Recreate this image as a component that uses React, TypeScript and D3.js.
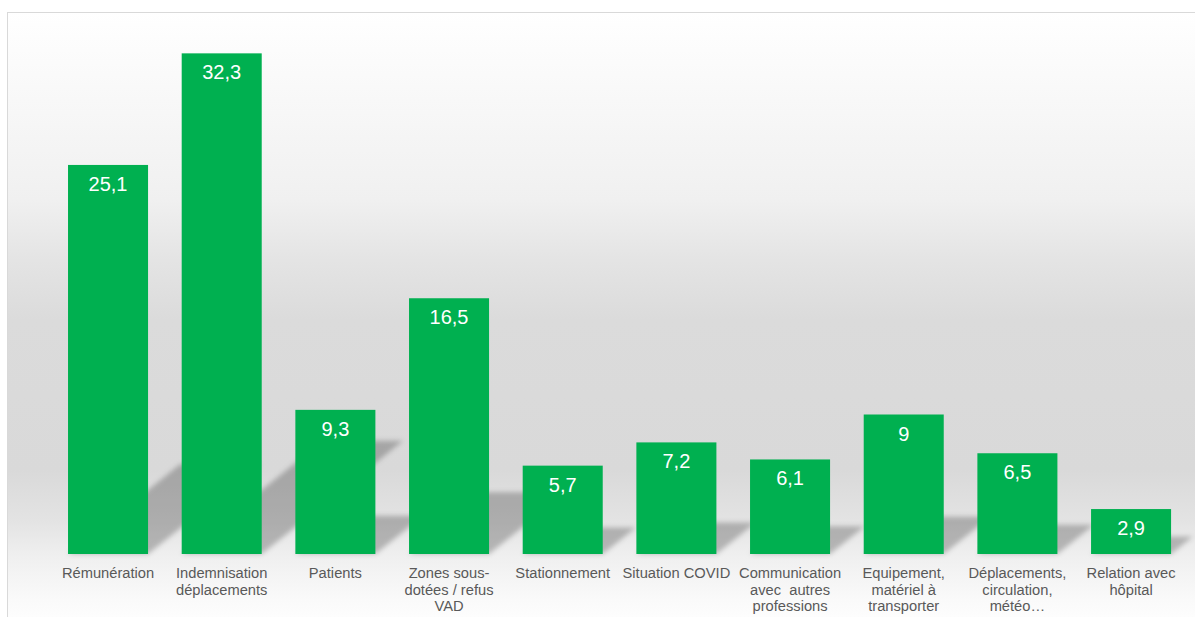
import React from "react";
import * as d3 from "d3";

const categories: string[][] = [
  ["Rémunération"],
  ["Indemnisation", "déplacements"],
  ["Patients"],
  ["Zones sous-", "dotées / refus", "VAD"],
  ["Stationnement"],
  ["Situation COVID"],
  ["Communication", "avec  autres", "professions"],
  ["Equipement,", "matériel à", "transporter"],
  ["Déplacements,", "circulation,", "météo…"],
  ["Relation avec", "hôpital"],
];
const values: number[] = [25.1, 32.3, 9.3, 16.5, 5.7, 7.2, 6.1, 9, 6.5, 2.9];
const yMax = 35;

const W = 1195;
const H = 617;
const BASE = 554;
const GREEN = "#00B050";
const FONT = "'Liberation Sans', Arial, sans-serif";

const bgStops: [number, string][] = [
  [12, "#ffffff"],
  [100, "#f8f8f8"],
  [200, "#f0f0f0"],
  [260, "#e4e4e4"],
  [320, "#dbdbdb"],
  [470, "#d9d9d9"],
  [520, "#e3e3e3"],
  [555, "#efefef"],
  [600, "#fafafa"],
  [617, "#fdfdfd"],
];

export default function App() {
  const idx = values.map((_, i) => i);
  const x = d3.scaleBand<number>().domain(idx).range([51.2, 1187.9]).paddingInner(0.296).paddingOuter(0.148);
  const y = d3.scaleLinear().domain([0, yMax]).range([BASE, BASE - 15.5 * yMax]);
  const bw = x.bandwidth();
  const fmt = (v: number) => String(v).replace(".", ",");

  const shadowPath = (i: number) => {
    const x0 = x(i)!;
    const x1 = x0 + bw;
    const h = BASE - y(values[i]);
    const sh = 0.21 * h + 8;
    const k = 1.25;
    const p = d3.path();
    p.moveTo(x0, BASE);
    p.lineTo(x1, BASE);
    p.lineTo(x1 + k * sh, BASE - sh);
    p.lineTo(x0 + k * sh, BASE - sh);
    p.closePath();
    return p.toString();
  };

  return (
    <svg width={W} height={H} style={{ position: "absolute", left: 0, top: 0, display: "block" }}>
      <defs>
        <linearGradient id="bg" gradientUnits="userSpaceOnUse" x1="0" y1="12" x2="0" y2={H}>
          {bgStops.map(([py, c], i) => (
            <stop key={i} offset={(py - 12) / (H - 12)} stopColor={c} />
          ))}
        </linearGradient>
        <filter id="blur" x="-20%" y="-20%" width="140%" height="140%">
          <feGaussianBlur stdDeviation="2.5" />
        </filter>
        <clipPath id="area">
          <rect x={7} y={12} width={W} height={H} />
        </clipPath>
      </defs>
      <rect x={0} y={0} width={W} height={H} fill="#ffffff" />
      <rect x={7.5} y={12.5} width={W + 10} height={H + 10} fill="url(#bg)" stroke="#d9d9d9" strokeWidth={1} />
      <g clipPath="url(#area)">
        <g filter="url(#blur)">
          {idx.map((i) => (
            <path key={i} d={shadowPath(i)} fill="#000" fillOpacity={0.24} />
          ))}
        </g>
        {idx.map((i) => (
          <rect key={i} x={x(i)} y={y(values[i])} width={bw} height={BASE - y(values[i])} fill={GREEN} />
        ))}
        {idx.map((i) => (
          <text
            key={i}
            x={x(i)! + bw / 2}
            y={y(values[i]) + 26}
            textAnchor="middle"
            fill="#ffffff"
            fontFamily={FONT}
            fontSize={20}
          >
            {fmt(values[i])}
          </text>
        ))}
        {categories.map((lines, i) => (
          <text
            key={i}
            x={x(i)! + bw / 2}
            y={578}
            textAnchor="middle"
            fill="#595959"
            fontFamily={FONT}
            fontSize={14.7}
            style={{ whiteSpace: "pre" }}
          >
            {lines.map((ln, j) => (
              <tspan key={j} x={x(i)! + bw / 2} dy={j === 0 ? 0 : 16.7}>
                {ln}
              </tspan>
            ))}
          </text>
        ))}
      </g>
    </svg>
  );
}
